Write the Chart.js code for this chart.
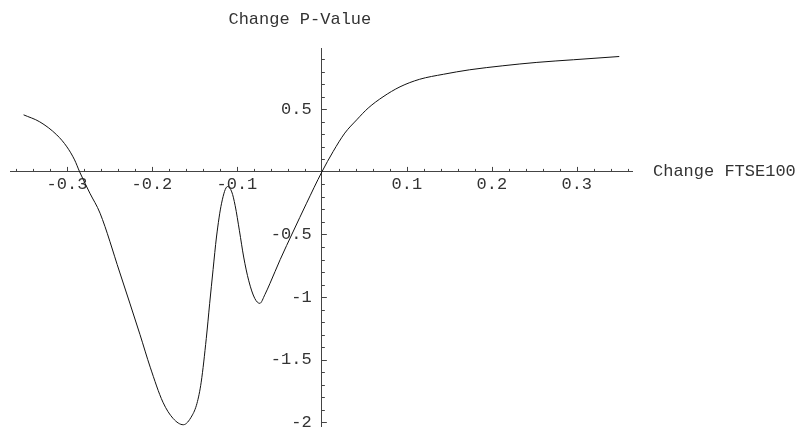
<!DOCTYPE html>
<html>
<head>
<meta charset="utf-8">
<script src="https://cdn.jsdelivr.net/npm/chart.js@4"></script>
<style>
  html, body { margin: 0; padding: 0; background: #fff; }
  #wrap { width: 802px; height: 430px; }
</style>
</head>
<body>
<div id="wrap"><canvas id="plot" width="802" height="430"></canvas></div>
<script>
// values
const changeFtse = [
  -0.351, -0.332, -0.312, -0.300, -0.291, -0.285, -0.273, -0.261, -0.238, -0.214,
  -0.202, -0.187, -0.175, -0.163, -0.153, -0.147, -0.142, -0.136, -0.132, -0.128,
  -0.124, -0.118, -0.111, -0.106, -0.102, -0.097, -0.092, -0.086, -0.079, -0.073,
  -0.067, -0.061, -0.049, -0.034, -0.018, 0, 0.0133, 0.027, 0.041, 0.0545,
  0.072, 0.092, 0.115, 0.143, 0.174, 0.213, 0.253, 0.296, 0.350
];
const changePValue = [
  0.456, 0.40, 0.296, 0.20, 0.096, 0.0, -0.17, -0.33, -0.80, -1.30,
  -1.56, -1.84, -1.97, -2.02, -1.95, -1.85, -1.68, -1.33, -1.05, -0.78,
  -0.52, -0.25, -0.117, -0.16, -0.27, -0.47, -0.68, -0.87, -1.01, -1.05,
  -0.98, -0.89, -0.70, -0.48, -0.25, 0, 0.163, 0.31, 0.416, 0.51,
  0.60, 0.68, 0.74, 0.78, 0.816, 0.848, 0.875, 0.896, 0.922
];
const xLabelTicks = [-0.3, -0.2, -0.1, 0.1, 0.2, 0.3];
const yLabelTicks = [-2, -1.5, -1, -0.5, 0.5];

const mono = "'Liberation Mono', 'DejaVu Sans Mono', monospace";

const points = changeFtse.map((x, i) => ({x: x, y: changePValue[i]}));

const near = (v, list) => list.some(t => Math.abs(v - t) < 1e-6);
const isMult = (v, step) => Math.abs(v / step - Math.round(v / step)) < 1e-6;

// Mathematica-style ticks (pointing into the plot) and axis captions
const axisDecor = {
  id: 'axisDecor',
  afterDraw(chart) {
    const ctx = chart.ctx;
    const xs = chart.scales.x, ys = chart.scales.y;
    const x0 = xs.getPixelForValue(0), y0 = ys.getPixelForValue(0);
    ctx.save();
    ctx.strokeStyle = '#444';
    ctx.lineWidth = 1;
    ctx.beginPath();
    xs.ticks.forEach(t => {
      if (Math.abs(t.value) < 1e-9) return;
      const px = Math.round(xs.getPixelForValue(t.value)) + 0.5;
      const len = isMult(t.value, 0.1) ? 5 : 3;
      ctx.moveTo(px, y0);
      ctx.lineTo(px, y0 - len);
    });
    ys.ticks.forEach(t => {
      if (Math.abs(t.value) < 1e-9) return;
      const py = Math.round(ys.getPixelForValue(t.value)) + 0.5;
      const len = isMult(t.value, 0.5) ? 5 : 3;
      ctx.moveTo(x0, py);
      ctx.lineTo(x0 + len, py);
    });
    ctx.stroke();

    ctx.fillStyle = '#333';
    ctx.font = '17px ' + mono;
    ctx.textBaseline = 'middle';
    ctx.textAlign = 'left';
    ctx.fillText('Change FTSE100', xs.right + 21, y0);
    ctx.textAlign = 'center';
    ctx.fillText('Change P-Value', x0 - 22, 19);
    ctx.restore();
  }
};

new Chart(document.getElementById('plot').getContext('2d'), {
  type: 'line',
  data: {
    datasets: [{
      data: points,
      borderColor: '#111',
      borderWidth: 1,
      pointRadius: 0,
      fill: false,
      cubicInterpolationMode: 'monotone'
    }]
  },
  options: {
    responsive: false,
    animation: false,
    layout: { padding: { left: 10, right: 170, top: 48, bottom: 4 } },
    plugins: {
      legend: { display: false },
      tooltip: { enabled: false }
    },
    scales: {
      x: {
        type: 'linear',
        position: { y: 0 },
        min: -0.367,
        max: 0.365,
        afterFit: s => { s.height = 0; s.paddingLeft = 0; s.paddingRight = 0; },
        grid: { display: false },
        border: { display: true, color: '#444', width: 1 },
        ticks: {
          stepSize: 0.02,
          includeBounds: false,
          autoSkip: false,
          maxRotation: 0,
          padding: -6,
          color: '#333',
          font: { family: mono, size: 17 },
          callback: v => near(v, xLabelTicks) ? String(Math.round(v * 10) / 10) : ''
        }
      },
      y: {
        type: 'linear',
        position: { x: 0 },
        min: -2.03,
        max: 0.99,
        afterFit: s => { s.width = 0; s.paddingTop = 0; s.paddingBottom = 0; },
        grid: { display: false },
        border: { display: true, color: '#444', width: 1 },
        ticks: {
          stepSize: 0.1,
          includeBounds: false,
          autoSkip: false,
          color: '#333',
          font: { family: mono, size: 17 },
          // trailing space keeps the label clear of the axis line
          callback: v => near(v, yLabelTicks) ? String(Math.round(v * 10) / 10) + ' ' : ''
        }
      }
    }
  },
  plugins: [axisDecor]
});
</script>
</body>
</html>
